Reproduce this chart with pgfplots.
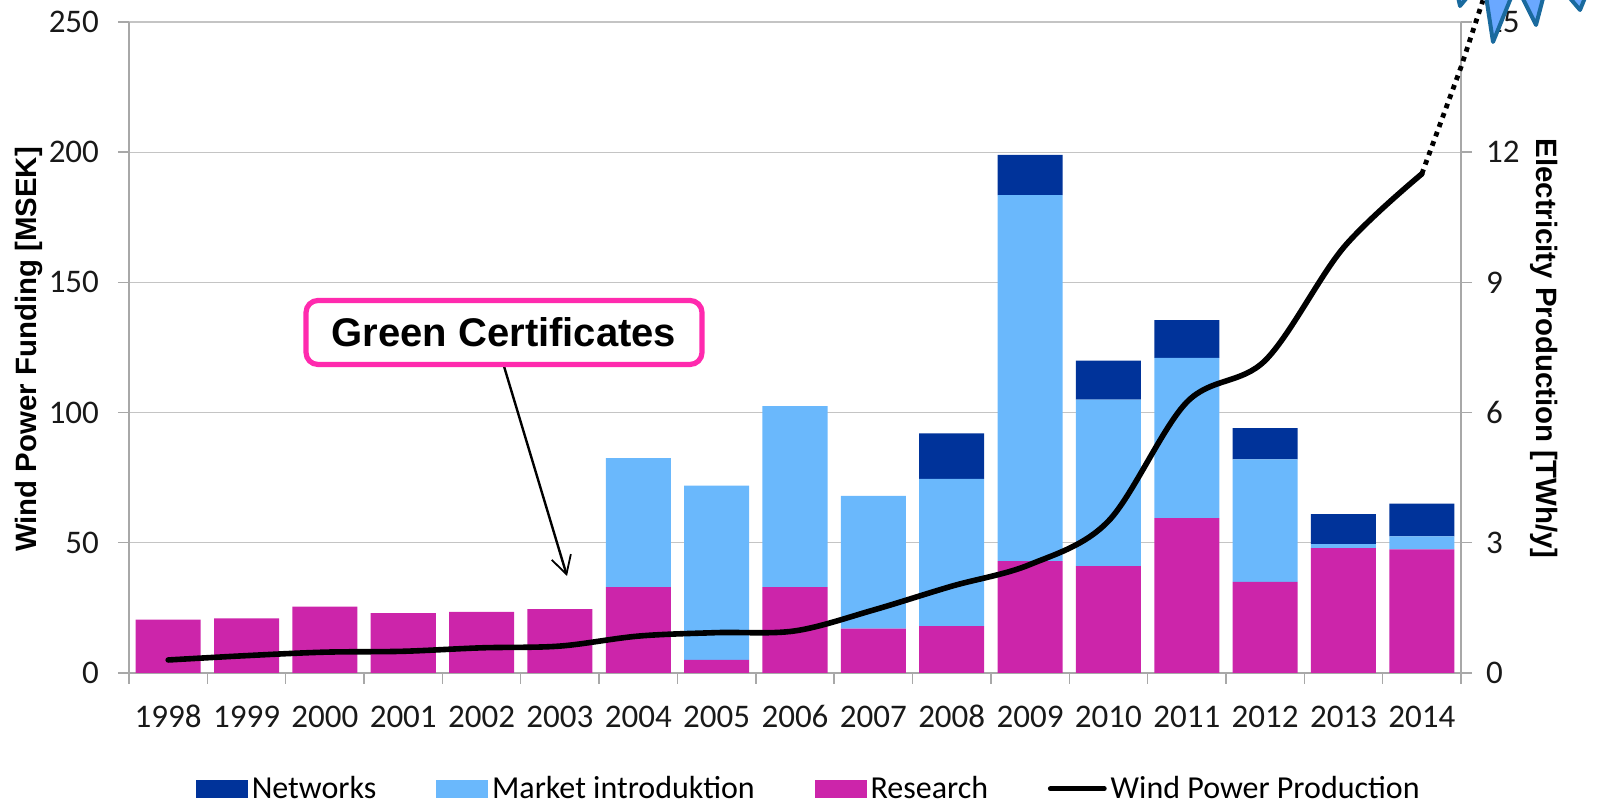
\documentclass[border=0pt]{standalone}
\usepackage{pgfplots}
\pgfplotsset{compat=1.18}
\usepackage{pgfplotstable}
\usepackage{fontspec}
\setmainfont{Carlito}
\newfontfamily\arialf{Liberation Sans}
\usetikzlibrary{arrows.meta}
\definecolor{netw}{HTML}{00339A}
\definecolor{mark}{HTML}{6AB8FC}
\definecolor{res}{HTML}{CC25AA}
\definecolor{axg}{HTML}{A8A8A8}
\definecolor{grd}{HTML}{C4C4C4}
\definecolor{pinkb}{HTML}{FF2AAE}
\definecolor{starf}{HTML}{6AA8FF}
\definecolor{stard}{HTML}{1A6A9E}
\pgfplotstableread{
x res market netw
0 20.5 0 0
1 21 0 0
2 25.5 0 0
3 23 0 0
4 23.5 0 0
5 24.5 0 0
6 33 49.5 0
7 5 67 0
8 33 69.5 0
9 17 51 0
10 18 56.5 17.5
11 43 140.5 15.5
12 41 64 15
13 59.5 61.5 14.5
14 35 47 12
15 48 1.5 11.5
16 47.5 5 12.5
}\fundtable
\begin{document}
\begin{tikzpicture}[x=0.5pt,y=0.5pt]
\path[use as bounding box] (-129,-133) rectangle (1487,673);
\begin{axis}[
 at={(0,0)},anchor=south west,
 scale only axis,width=666pt,height=325.5pt,
 xmin=-0.5,xmax=16.5,ymin=0,ymax=250,
 ybar stacked,bar width=0.83,
 xtick=data,xticklabels={1998,1999,2000,2001,2002,2003,2004,2005,2006,2007,2008,2009,2010,2011,2012,2013,2014},
 minor xtick={-0.5,0.5,...,16.5},
 ytick={0,50,...,250},
 axis y line*=left,axis x line*=bottom,
 axis line style={draw=axg,-,line width=0.8pt},
 tick style={draw=axg,line width=0.7pt},
 major x tick style={draw=none},
 tick align=outside,
 major tick length=5.5pt,minor tick length=5.5pt,
 ymajorgrids,grid style={draw=grd,line width=0.6pt},
 tick label style={font=\fontsize{16.5}{16.5}\selectfont,text=black!90},
 /pgf/number format/assume math mode=true,
 xticklabel style={yshift=-7pt,text height=11pt,text depth=0pt},
 yticklabel style={xshift=-6pt},
 ylabel={\arialf\bfseries\fontsize{14.7}{14.7}\selectfont Wind Power Funding [MSEK]},
 ylabel style={at={(axis description cs:0,0.497)},anchor=center,yshift=50pt},
 legend style={at={(axis description cs:0,0)},anchor=south west,draw=none,fill=none,
   xshift=33.2pt,yshift=-66.4pt,font=\fontsize{16}{16}\selectfont,
   legend columns=4,/tikz/every even column/.append style={column sep=27.9pt},inner sep=0pt},
 legend image code/.code={\fill[draw=none,#1] (0pt,-4.5pt) rectangle (26pt,4.5pt);},
 clip=false,
]
\addlegendimage{fill=netw}\addlegendentry{Networks}
\addlegendimage{fill=mark}\addlegendentry{Market introduktion}
\addlegendimage{fill=res}\addlegendentry{Research}
\addlegendimage{legend image code/.code={\draw[black,line width=2.4pt,line cap=round] (0pt,0pt) -- (27pt,0pt);}}\addlegendentry{Wind Power Production}
\addplot[fill=res,draw=none,forget plot] table[x=x,y=res]{\fundtable};
\addplot[fill=mark,draw=none,forget plot] table[x=x,y=market]{\fundtable};
\addplot[fill=netw,draw=none,forget plot] table[x=x,y=netw]{\fundtable};
\end{axis}
\begin{axis}[
 at={(0,0)},anchor=south west,
 scale only axis,width=666pt,height=325.5pt,
 xmin=-0.5,xmax=16.5,ymin=0,ymax=15,
 axis x line=none,axis y line*=right,
 ytick={0,3,6,9,12,15},
 axis line style={draw=axg,-,line width=0.8pt},
 tick style={draw=axg,line width=0.7pt},
 tick align=outside,major tick length=5.5pt,
 tick label style={font=\fontsize{16.5}{16.5}\selectfont,text=black!90},
 /pgf/number format/assume math mode=true,
 yticklabel style={xshift=3.5pt},
 ylabel={\arialf\bfseries\fontsize{14.7}{14.7}\selectfont Electricity Production [TWh/y]},
 ylabel style={at={(axis description cs:1,0.4985)},anchor=center,rotate=180,yshift=41.5pt},
 clip=false,
]
\addplot[black,line width=2.8pt,line cap=round,smooth,tension=0.55] coordinates {
(0,0.3)(1,0.4)(2,0.48)(3,0.5)(4,0.58)(5,0.62)(6,0.85)(7,0.93)(8,0.97)(9,1.45)(10,2.0)(11,2.5)(12,3.5)(13,6.24)(14,7.2)(15,9.8)(16,11.5)};
\addplot[black,line width=2.4pt,dash pattern=on 2.4pt off 2.6pt] coordinates {(16,11.5)(16.5,13.96)(16.78,15.5)};
\end{axis}
\draw[line width=1.2pt,draw=black,-{Straight Barb[length=9pt,width=10pt,line width=0.9pt]}] (374,310) -- (438,97);
\node[draw=pinkb,line width=2.6pt,fill=white,rounded corners=6pt,minimum width=198pt,minimum height=32pt,inner sep=0pt] at (375,340.5) {\arialf\bfseries\fontsize{20}{20}\selectfont Green Certificates};
\foreach \a/\b/\c/\d/\e/\f in {1331/667/1326/690/1350/690, 1364/631/1355/690/1388/690, 1407/648/1386/690/1418/690, 1451/663/1428/690/1462/690}{
 \fill[starf,draw=stard,line width=2pt,line join=round] (\a,\b) -- (\c,\d) -- (\e,\f) -- cycle;
}
\end{tikzpicture}
\end{document}
